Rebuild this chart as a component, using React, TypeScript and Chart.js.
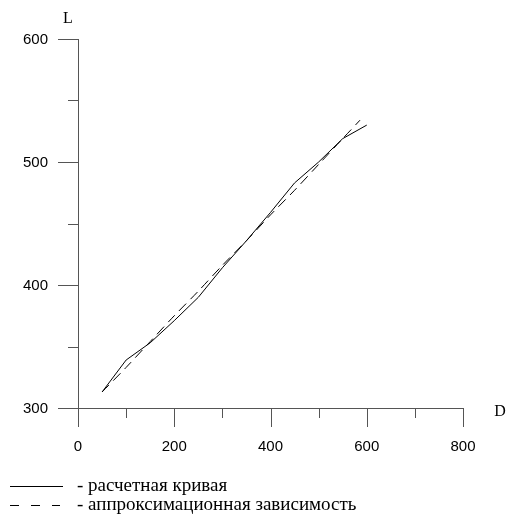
import React, { useEffect, useRef } from "react";
import { Chart, registerables } from "chart.js";

Chart.register(...registerables);

const calcD = [50, 100, 150, 200, 250, 300, 350, 400, 450, 500, 550, 600];
const calcL = [313, 339, 353, 371, 390, 414, 436, 459, 483, 500, 519, 530];
const approxD = [50, 100, 150, 200, 250, 300, 350, 400, 450, 500, 550, 586];
const approxL = [313, 333, 354, 375, 395, 416, 436, 457, 477, 498, 519, 534];

const xMajor = [0, 200, 400, 600, 800];
const xMinor = [100, 300, 500, 700];
const yMajor = [300, 400, 500, 600];
const yMinor = [350, 450, 550];

const xTitle = "D";
const yTitle = "L";
const legendLabels = ["- расчетная кривая", "- аппроксимационная зависимость"];

const axesPlugin = {
  id: "customAxes",
  afterDraw(chart: any) {
    const ctx = chart.ctx;
    const xs = chart.scales.x;
    const ys = chart.scales.y;
    const x0 = xs.getPixelForValue(0);
    const x800 = xs.getPixelForValue(800);
    const y300 = ys.getPixelForValue(300);
    const y600 = ys.getPixelForValue(600);
    ctx.save();
    ctx.strokeStyle = "#555";
    ctx.lineWidth = 1;
    ctx.beginPath();
    ctx.moveTo(x0 + 0.5, y600);
    ctx.lineTo(x0 + 0.5, y300);
    ctx.moveTo(x0, y300 + 0.5);
    ctx.lineTo(x800, y300 + 0.5);
    xMajor.forEach((v) => {
      const p = Math.round(xs.getPixelForValue(v)) + 0.5;
      ctx.moveTo(p, y300);
      ctx.lineTo(p, y300 + 19);
    });
    xMinor.forEach((v) => {
      const p = Math.round(xs.getPixelForValue(v)) + 0.5;
      ctx.moveTo(p, y300);
      ctx.lineTo(p, y300 + 10);
    });
    yMajor.forEach((v) => {
      const p = Math.round(ys.getPixelForValue(v)) + 0.5;
      ctx.moveTo(x0, p);
      ctx.lineTo(x0 - 20, p);
    });
    yMinor.forEach((v) => {
      const p = Math.round(ys.getPixelForValue(v)) + 0.5;
      ctx.moveTo(x0, p);
      ctx.lineTo(x0 - 10, p);
    });
    ctx.stroke();

    ctx.fillStyle = "#000";
    ctx.font = "15px 'Liberation Sans', Arial, sans-serif";
    ctx.textAlign = "center";
    ctx.textBaseline = "middle";
    xMajor.forEach((v) => {
      ctx.fillText(String(v), xs.getPixelForValue(v), y300 + 39);
    });
    ctx.textAlign = "right";
    yMajor.forEach((v) => {
      ctx.fillText(String(v), x0 - 30, ys.getPixelForValue(v) + 1);
    });

    ctx.font = "16px 'Liberation Serif', 'Times New Roman', serif";
    ctx.textAlign = "center";
    ctx.fillText(yTitle, x0 - 10, y600 - 20);
    ctx.fillText(xTitle, x800 + 37, y300 + 4);

    const lx = 10;
    const ly1 = 486.5;
    const ly2 = 505.5;
    ctx.strokeStyle = "#000";
    ctx.beginPath();
    ctx.moveTo(lx, ly1);
    ctx.lineTo(lx + 53, ly1);
    ctx.stroke();
    ctx.setLineDash([9, 12]);
    ctx.beginPath();
    ctx.moveTo(lx, ly2);
    ctx.lineTo(lx + 50, ly2);
    ctx.stroke();
    ctx.setLineDash([]);
    ctx.font = "19px 'Liberation Serif', 'Times New Roman', serif";
    ctx.textAlign = "left";
    ctx.fillText(legendLabels[0], 77, ly1);
    ctx.fillText(legendLabels[1], 77, ly2);
    ctx.restore();
  },
};

export default function App() {
  const ref = useRef<HTMLCanvasElement>(null);
  useEffect(() => {
    if (!ref.current) return;
    const chart = new Chart(ref.current, {
      type: "scatter",
      data: {
        datasets: [
          {
            label: legendLabels[0],
            data: calcD.map((d, i) => ({ x: d, y: calcL[i] })),
            showLine: true,
            borderColor: "#000",
            borderWidth: 1,
            pointRadius: 0,
            tension: 0,
          },
          {
            label: legendLabels[1],
            data: approxD.map((d, i) => ({ x: d, y: approxL[i] })),
            showLine: true,
            borderColor: "#000",
            borderWidth: 1,
            borderDash: [10, 6],
            pointRadius: 0,
            tension: 0.3,
          },
        ],
      },
      options: {
        responsive: false,
        animation: false,
        layout: { padding: { left: 78, right: 44, top: 39, bottom: 106 } },
        plugins: { legend: { display: false }, tooltip: { enabled: false } },
        scales: {
          x: { type: "linear", min: 0, max: 800, display: false },
          y: { type: "linear", min: 300, max: 600, display: false },
        },
      },
      plugins: [axesPlugin],
    });
    return () => chart.destroy();
  }, []);
  return (
    <div style={{ position: "absolute", left: 0, top: 0, width: 507, height: 514, background: "#fff" }}>
      <canvas ref={ref} width={507} height={514} />
    </div>
  );
}
